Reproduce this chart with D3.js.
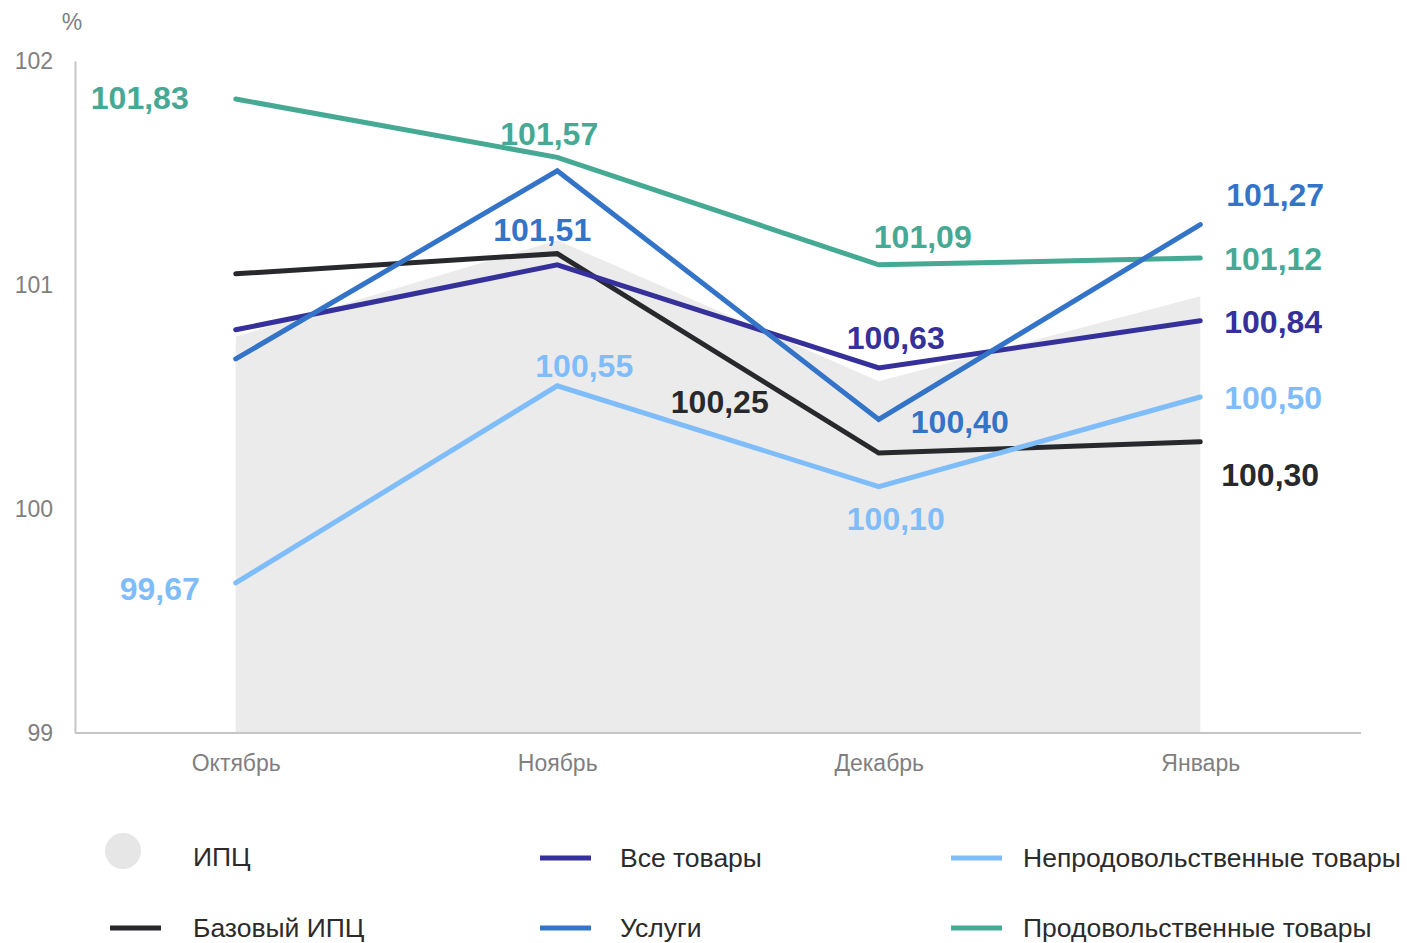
<!DOCTYPE html>
<html>
<head>
<meta charset="utf-8">
<script src="https://cdn.jsdelivr.net/npm/d3@7"></script>
<style>
  body { margin: 0; background: #fff; }
  svg { display: block; font-family: "Liberation Sans", Arial, sans-serif; }
</style>
</head>
<body>
<svg width="1407" height="943"></svg>
<script>
// data
const months = ["Октябрь", "Ноябрь", "Декабрь", "Январь"];
const cpi = [100.77, 101.20, 100.57, 100.95];
const allGoods = [100.80, 101.09, 100.63, 100.84];
const services = [100.67, 101.51, 100.40, 101.27];
const coreCpi = [101.05, 101.14, 100.25, 100.30];
const nonFood = [99.67, 100.55, 100.10, 100.50];
const food = [101.83, 101.57, 101.09, 101.12];
const yTicks = [99, 100, 101, 102];

const seriesList = [
  {name: "Базовый ИПЦ", values: coreCpi, color: "#28292c"},
  {name: "Продовольственные товары", values: food, color: "#45a994"},
  {name: "Непродовольственные товары", values: nonFood, color: "#7fbdfa"},
  {name: "Все товары", values: allGoods, color: "#35309a"},
  {name: "Услуги", values: services, color: "#3474c8"}
];

// label placement: which points get a label and the offset from the point
const labelLayout = {
  "Продовольственные товары": [[-96, 10, "middle"], [-8, -12, "middle"], [44, -17, "middle"], [24, 12, "start"]],
  "Услуги": [null, [-15, 70, "middle"], [81, 14, "middle"], [26, -19, "start"]],
  "Все товары": [null, null, [17, -19, "middle"], [24, 12, "start"]],
  "Базовый ИПЦ": [null, null, [-159, -40, "middle"], [21, 44, "start"]],
  "Непродовольственные товары": [[-76, 17, "middle"], [27, -9, "middle"], [17, 43, "middle"], [24, 12, "start"]]
};

const svg = d3.select("svg");
const plotLeft = 75, plotRight = 1361, plotTop = 61, plotBottom = 733;

const x = d3.scalePoint().domain(months).range([plotLeft, plotRight]).padding(0.5);
const y = d3.scaleLinear().domain([99, 102]).range([plotBottom, plotTop]);

// ИПЦ area
svg.append("path")
  .datum(cpi)
  .attr("fill", "#ebebeb")
  .attr("d", d3.area()
    .x((d, i) => x(months[i]))
    .y0(y(99))
    .y1(d => y(d)));

// axes
const yAxis = svg.append("g")
  .attr("transform", `translate(${plotLeft},0)`)
  .call(d3.axisLeft(y).tickValues(yTicks).tickSize(0).tickPadding(22).tickFormat(d3.format("d")));
yAxis.select(".domain").attr("stroke", "#c6c6c6").attr("stroke-width", 2);
yAxis.selectAll("text").attr("font-size", 23).attr("fill", "#7f7f7f").attr("font-family", "Liberation Sans, Arial, sans-serif");

const xAxis = svg.append("g")
  .attr("transform", `translate(0,${plotBottom})`)
  .call(d3.axisBottom(x).tickSize(0).tickPadding(22));
xAxis.select(".domain").attr("stroke", "#c6c6c6").attr("stroke-width", 2).attr("d", `M${plotLeft},0H${plotRight}`);
xAxis.selectAll("text").attr("font-size", 23).attr("fill", "#7f7f7f").attr("font-family", "Liberation Sans, Arial, sans-serif");

svg.append("text")
  .attr("x", 72).attr("y", 30)
  .attr("text-anchor", "middle")
  .attr("font-size", 23).attr("fill", "#7f7f7f")
  .text("%");

// lines
const line = d3.line()
  .x((d, i) => x(months[i]))
  .y(d => y(d));

const drawOrder = ["Базовый ИПЦ", "Продовольственные товары", "Непродовольственные товары", "Все товары", "Услуги"];
drawOrder.forEach(n => {
  const s = seriesList.find(d => d.name === n);
  svg.append("path")
    .datum(s.values)
    .attr("fill", "none")
    .attr("stroke", s.color)
    .attr("stroke-width", 5)
    .attr("stroke-linecap", "round")
    .attr("stroke-linejoin", "miter")
    .attr("d", line);
});

// value labels
const fmt = v => v.toFixed(2).replace(".", ",");
seriesList.forEach(s => {
  s.values.forEach((v, i) => {
    const lay = labelLayout[s.name][i];
    if (!lay) return;
    svg.append("text")
      .attr("x", x(months[i]) + lay[0])
      .attr("y", y(v) + lay[1])
      .attr("text-anchor", lay[2])
      .attr("font-size", 32)
      .attr("font-weight", "bold")
      .attr("fill", s.color)
      .text(fmt(v));
  });
});

// legend
const legendItems = [
  {name: "ИПЦ", type: "dot", color: "#e6e6e6", lx: 110, tx: 193, cy: 851},
  {name: "Базовый ИПЦ", type: "line", color: "#28292c", lx: 110, tx: 193, cy: 928},
  {name: "Все товары", type: "line", color: "#35309a", lx: 540, tx: 620, cy: 858},
  {name: "Услуги", type: "line", color: "#3474c8", lx: 540, tx: 620, cy: 928},
  {name: "Непродовольственные товары", type: "line", color: "#7fbdfa", lx: 951, tx: 1023, cy: 858},
  {name: "Продовольственные товары", type: "line", color: "#45a994", lx: 951, tx: 1023, cy: 928}
];

const lg = svg.append("g");
legendItems.forEach(d => {
  if (d.type === "dot") {
    lg.append("circle").attr("cx", d.lx + 13).attr("cy", d.cy).attr("r", 18).attr("fill", d.color);
  } else {
    lg.append("line")
      .attr("x1", d.lx).attr("x2", d.lx + 51)
      .attr("y1", d.cy).attr("y2", d.cy)
      .attr("stroke", d.color).attr("stroke-width", 5);
  }
  lg.append("text")
    .attr("x", d.tx).attr("y", d.type === "dot" ? d.cy + 15 : d.cy + 9)
    .attr("font-size", 26.5)
    .attr("fill", "#2b2b2b")
    .text(d.name);
});
</script>
</body>
</html>
